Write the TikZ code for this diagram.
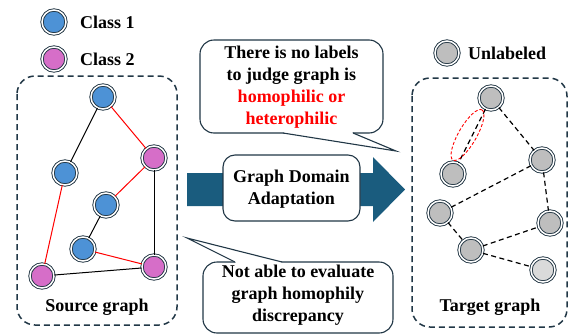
\documentclass[tikz,border=0pt]{standalone}
\usepackage{fontspec}
\setmainfont{Liberation Serif}
\newfontfamily\timesfam{Liberation Serif}
\begin{document}
\begin{tikzpicture}[x=1pt,y=-1pt]
\definecolor{cblue}{RGB}{77,146,214}
\definecolor{cpink}{RGB}{214,110,200}
\definecolor{cgray}{RGB}{190,190,190}
\definecolor{clight}{RGB}{218,218,218}
\definecolor{ring}{RGB}{30,50,64}
\definecolor{frame}{RGB}{33,55,70}
\definecolor{arrowfill}{RGB}{26,92,126}
\tikzset{
  gnode/.style={circle, draw=ring, line width=0.9pt, double=white,
    double distance=1.5pt, minimum size=24pt, inner sep=0pt},
  txt/.style={font=\timesfam\fontsize{18}{22}\selectfont\bfseries, align=center, inner sep=0pt},
  region/.style={draw=frame, line width=1.5pt, dash pattern=on 6pt off 4pt, rounded corners=18pt},
  bubble/.style={draw=frame, line width=1.1pt, fill=white},
  redge/.style={red, line width=1pt},
  bedge/.style={black, line width=1pt},
  tedge/.style={black, line width=1.2pt, dash pattern=on 5pt off 3.5pt},
}
\useasboundingbox (0,0) rectangle (571,335);

% legend
\node[gnode, fill=cblue] (lc1) at (54,22) {};
\node[txt, anchor=west] (tc1) at (80,22) {Class 1};
\node[gnode, fill=cpink] (lc2) at (54,59) {};
\node[txt, anchor=west] (tc2) at (80,59) {Class 2};
\node[gnode, fill=cgray] (lu) at (447,53) {};
\node[txt, anchor=west] (tu) at (468,53) {Unlabeled};

% source graph
\draw[region] (17,76) rectangle (177,325);
\node[gnode, fill=cblue] (A) at (103,97) {};
\node[gnode, fill=cpink] (B) at (154,158) {};
\node[gnode, fill=cblue] (C) at (65,173) {};
\node[gnode, fill=cblue] (D) at (106,205) {};
\node[gnode, fill=cblue] (E) at (83,249) {};
\node[gnode, fill=cpink] (F) at (154,267) {};
\node[gnode, fill=cpink] (G) at (42,276) {};
\draw[redge] (A) -- (B);
\draw[bedge] (A) -- (C);
\draw[redge] (C) -- (G);
\draw[redge] (B) -- (D);
\draw[bedge] (B) -- (F);
\draw[bedge] (D) -- (E);
\draw[redge] (E) -- (F);
\draw[bedge] (G) -- (F);
\node[txt] (sl) at (97,307) {Source graph};

% target graph
\draw[region] (412,78) rectangle (567,327);
\node[gnode, fill=cgray] (T1) at (491,98) {};
\node[gnode, fill=cgray] (T2) at (542,160) {};
\node[gnode, fill=cgray] (T3) at (453,174) {};
\node[gnode, fill=cgray] (T4) at (440,213) {};
\node[gnode, fill=cgray] (T5) at (550,223) {};
\node[gnode, fill=cgray] (T6) at (471,250) {};
\node[gnode, fill=clight] (T7) at (543,270) {};
\draw[tedge] (T1) -- (T3);
\draw[tedge] (T1) -- (T2);
\draw[tedge] (T2) -- (T4);
\draw[tedge] (T2) -- (T5);
\draw[tedge] (T4) -- (T6);
\draw[tedge] (T6) -- (T5);
\draw[tedge] (T6) -- (T7);
\coordinate (ec) at (467.5,135);
\draw[red, line width=0.9pt, dash pattern=on 3pt off 2pt, rotate around={60:(ec)}] (ec) ellipse (29 and 9);
\node[txt] (tl) at (490,307) {Target graph};

% adaptation arrow
\fill[arrowfill] (187,173) -- (373,173) -- (373,157) -- (405,189.5) -- (373,222) -- (373,206) -- (187,206) -- cycle;
\draw[bubble, rounded corners=12pt] (223,155) rectangle (360,221);
\node[txt] (gda) at (291.5,189) {Graph Domain\\Adaptation};

% upper callout
\draw[bubble, rounded corners=14pt] (200,40) rectangle (383,133);
\coordinate (ttip) at (396,151);
\fill[white] (283.5,131) -- (283.5,133) -- (ttip) -- (352.5,133) -- (352.5,131) -- cycle;
\draw[draw=frame, line width=1.1pt, line join=miter] (283,133) -- (ttip) -- (353,133);
\node[txt] (q1) at (291.5,87.5) {There is no labels\\to judge graph is\\\textcolor{red}{homophilic or}\\\textcolor{red}{heterophilic}};

% lower callout
\draw[bubble, rounded corners=14pt] (203,262) rectangle (393,333);
\coordinate (btip) at (187,238);
\fill[white] (235.5,264) -- (235.5,262) -- (btip) -- (281.5,262) -- (281.5,264) -- cycle;
\draw[draw=frame, line width=1.1pt, line join=miter] (235,262) -- (btip) -- (282,262);
\node[txt] (q2) at (298,295) {Not able to evaluate\\graph homophily\\discrepancy};
\end{tikzpicture}
\end{document}
